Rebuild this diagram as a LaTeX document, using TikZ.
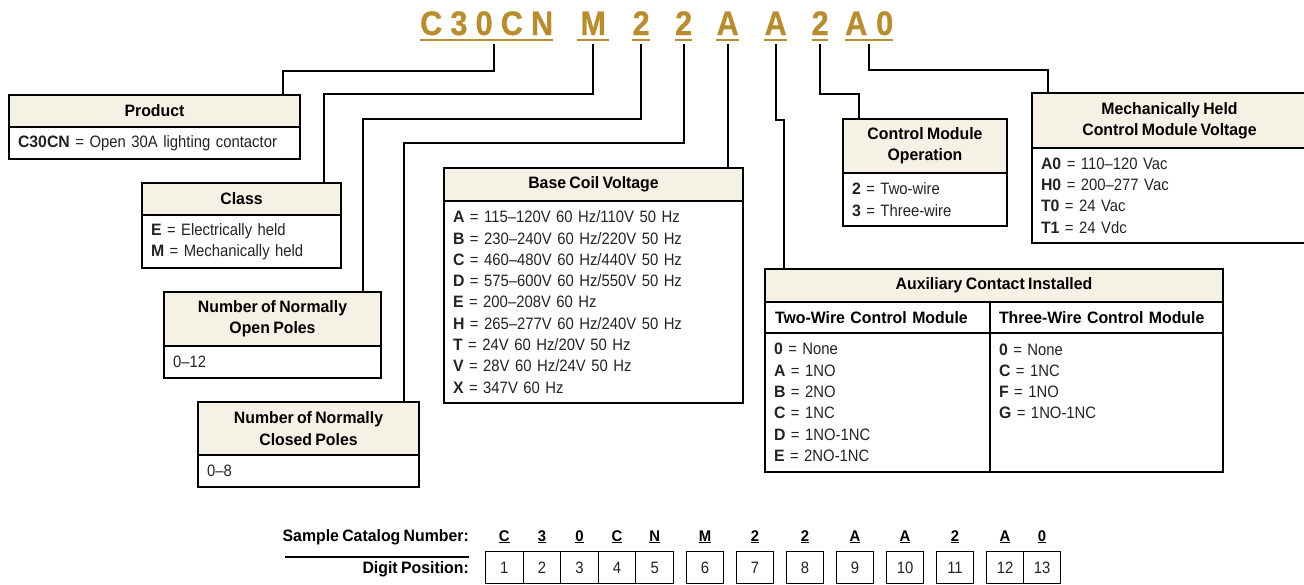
\documentclass[tikz,border=0pt]{standalone}
\usepackage{fontspec}
\setmainfont{Liberation Sans}[FakeStretch=0.9, WordSpace=0.75, BoldFeatures={FakeStretch=0.96}]
\newfontfamily\codefont{Liberation Sans}[FakeStretch=0.9, BoldFeatures={FakeBold=0.8}]
\usetikzlibrary{positioning}
\definecolor{gold}{RGB}{183,141,47}
\definecolor{cream}{RGB}{245,241,228}
\definecolor{ink}{RGB}{35,35,35}
\newcommand{\bodysize}{\fontsize{16.5}{21.3}\selectfont}

\tikzset{
  hdr/.style={draw, fill=cream, line width=1.2pt, inner sep=0pt, outer sep=0pt, align=center, anchor=north west, font=\bodysize\bfseries},
  sub/.style={draw, line width=1.2pt, inner xsep=10pt, inner ysep=0pt, outer sep=0pt, align=left, anchor=north west, font=\bodysize\bfseries},
  bdy/.style={draw, line width=1.2pt, inner xsep=9pt, inner ysep=0pt, outer sep=0pt, align=left, text=ink, font=\bodysize},
  conn/.style={line width=2pt},
  code/.style={text=gold, inner sep=0pt, anchor=base west, font=\codefont\bfseries\fontsize{34}{34}\selectfont},
  goldline/.style={gold, line width=2.5pt},
  cell/.style={draw, line width=1pt, inner sep=0pt, anchor=north west, minimum height=32pt, text=ink, font=\bodysize},
  sample/.style={inner sep=0pt, anchor=base, font=\fontsize{15.5}{15.5}\selectfont\bfseries},
}

\begin{document}
\begin{tikzpicture}[x=1pt, y=-1pt]
    \useasboundingbox (0,0) rectangle (1304,584);

    % Catalog code along the top
    \node[code] (cProd) at (420,35) {\makebox[133pt][s]{C\hfill3\hfill0\hfill C\hfill N}};
    \node[code] (cClass) at (577,35) {\makebox[32pt]{M}};
    \node[code] (cOpen) at (632,35) {\makebox[18pt]{2}};
    \node[code] (cClosed) at (675,35) {\makebox[17pt]{2}};
    \node[code] (cCoil) at (716,35) {\makebox[23pt]{A}};
    \node[code] (cAux) at (764,35) {\makebox[23pt]{A}};
    \node[code] (cOper) at (812,35) {\makebox[16pt]{2}};
    \node[code] (cVolt) at (845,35) {\makebox[48pt][s]{A\hfill0}};
    \foreach \n in {cProd,cClass,cOpen,cClosed,cCoil,cAux,cOper,cVolt}
        \draw[goldline] ([yshift=-5pt]\n.base west) -- ([yshift=-5pt]\n.base east);

    % Product
    \node[hdr, minimum width=291pt, minimum height=32pt] (prodH) at (9,95) {Product};
    \node[bdy, text width=273pt, minimum height=32pt, below=0pt of prodH] (prodB) {\textbf{C30CN} = Open 30A lighting contactor};

    % Class
    \node[hdr, minimum width=199pt, minimum height=32pt] (classH) at (142,183) {Class};
    \node[bdy, text width=181pt, minimum height=53pt, below=0pt of classH] (classB) {\textbf{E} = Electrically held\\ \textbf{M} = Mechanically held};

    % Normally open poles
    \node[hdr, minimum width=217pt, minimum height=54pt] (openH) at (164,292) {Number of Normally\\ Open Poles};
    \node[bdy, text width=199pt, minimum height=32pt, below=0pt of openH] (openB) {0--12};

    % Normally closed poles
    \node[hdr, minimum width=221pt, minimum height=53pt] (closedH) at (198,402) {Number of Normally\\ Closed Poles};
    \node[bdy, text width=203pt, minimum height=32pt, below=0pt of closedH] (closedB) {0--8};

    % Base coil voltage
    \node[hdr, minimum width=299pt, minimum height=33pt] (coilH) at (444,168) {Base Coil Voltage};
    \node[bdy, text width=281pt, minimum height=202pt, below=0pt of coilH] (coilB) {%
        \textbf{A} = 115--120V 60 Hz/110V 50 Hz\\
        \textbf{B} = 230--240V 60 Hz/220V 50 Hz\\
        \textbf{C} = 460--480V 60 Hz/440V 50 Hz\\
        \textbf{D} = 575--600V 60 Hz/550V 50 Hz\\
        \textbf{E} = 200--208V 60 Hz\\
        \textbf{H} = 265--277V 60 Hz/240V 50 Hz\\
        \textbf{T} = 24V 60 Hz/20V 50 Hz\\
        \textbf{V} = 28V 60 Hz/24V 50 Hz\\
        \textbf{X} = 347V 60 Hz};

    % Auxiliary contact
    \node[hdr, minimum width=458pt, minimum height=33pt] (auxH) at (765,269) {Auxiliary Contact Installed};
    \node[sub, text width=205pt, minimum height=31pt] (auxL) at (765,302) {Two-Wire Control Module};
    \node[sub, text width=215pt, minimum height=31pt, inner xsep=9pt] (auxR) at (990,302) {Three-Wire Control Module};
    \node[bdy, text width=207pt, minimum height=139pt, below=0pt of auxL] (auxLB) {%
        \textbf{0} = None\\
        \textbf{A} = 1NO\\
        \textbf{B} = 2NO\\
        \textbf{C} = 1NC\\
        \textbf{D} = 1NO-1NC\\
        \textbf{E} = 2NO-1NC};
    \node[bdy, text width=215pt, minimum height=139pt, below=0pt of auxR] (auxRB) {%
        \textbf{0} = None\\
        \textbf{C} = 1NC\\
        \textbf{F} = 1NO\\
        \textbf{G} = 1NO-1NC\\ \mbox{}\\ \mbox{}};

    % Control module operation
    \node[hdr, minimum width=164pt, minimum height=54pt] (operH) at (843,119) {Control Module\\ Operation};
    \node[bdy, text width=146pt, minimum height=53pt, below=0pt of operH] (operB) {\textbf{2} = Two-wire\\ \textbf{3} = Three-wire};

    % Mechanically held control module voltage
    \node[hdr, minimum width=275pt, minimum height=55pt] (voltH) at (1032,93) {Mechanically Held\\ Control Module Voltage};
    \node[bdy, text width=257pt, minimum height=95pt, below=0pt of voltH] (voltB) {%
        \textbf{A0} = 110--120 Vac\\
        \textbf{H0} = 200--277 Vac\\
        \textbf{T0} = 24 Vac\\
        \textbf{T1} = 24 Vdc};

    % Connectors from the code to the boxes
    \draw[conn] ([xshift=7.5pt,yshift=-9pt]cProd.base) -- ++(0,27) -| ([xshift=-17pt]prodH.north east);
    \draw[conn] ([yshift=-9pt]cClass.base) -- ++(0,50) -| ([xshift=-17pt]classH.north east);
    \draw[conn] ([yshift=-9pt]cOpen.base) -- ++(0,75) -| ([xshift=-18pt]openH.north east);
    \draw[conn] ([yshift=-9pt]cClosed.base) -- ++(0,99) -| ([xshift=-15pt]closedH.north east);
    \draw[conn] ([yshift=-9pt]cCoil.base) -- (cCoil.base |- coilH.north);
    \draw[conn] ([yshift=-9pt]cAux.base) -- ++(0,76) -| ([xshift=19pt]auxH.north west);
    \draw[conn] ([yshift=-9pt]cOper.base) -- ++(0,50) -| ([xshift=16pt]operH.north west);
    \draw[conn] ([yshift=-9pt]cVolt.base) -- ++(0,26) -| ([xshift=16pt]voltH.north west);

    % Sample catalog number and digit positions
    \node[font=\bodysize\bfseries, inner sep=0pt, anchor=base east] (sampleL) at (469,541) {Sample Catalog Number:};
    \node[font=\bodysize\bfseries, inner sep=0pt, anchor=east] (digitL) at (469,569) {Digit Position:};
    \draw[line width=2.5pt] ([xshift=3pt,yshift=-16pt]sampleL.base west) -- ([yshift=-16pt]sampleL.base east);
    \foreach \i/\x/\w/\c in {1/485/37.6/C, 2/522.6/37.6/3, 3/560.2/37.6/0, 4/597.8/37.6/C, 5/635.4/37.6/N,
                             6/686/37/M, 7/736/37/2, 8/786/37/2, 9/836/37/A, 10/886/37/A,
                             11/936/37/2, 12/986/37/A, 13/1023/37/0} {
        \node[cell, minimum width=\w pt] (d\i) at (\x,551) {\i};
        \path (d\i.north) ++(0,-10) node[sample] (s\i) {\underline{\c}};
    }
\end{tikzpicture}
\end{document}
